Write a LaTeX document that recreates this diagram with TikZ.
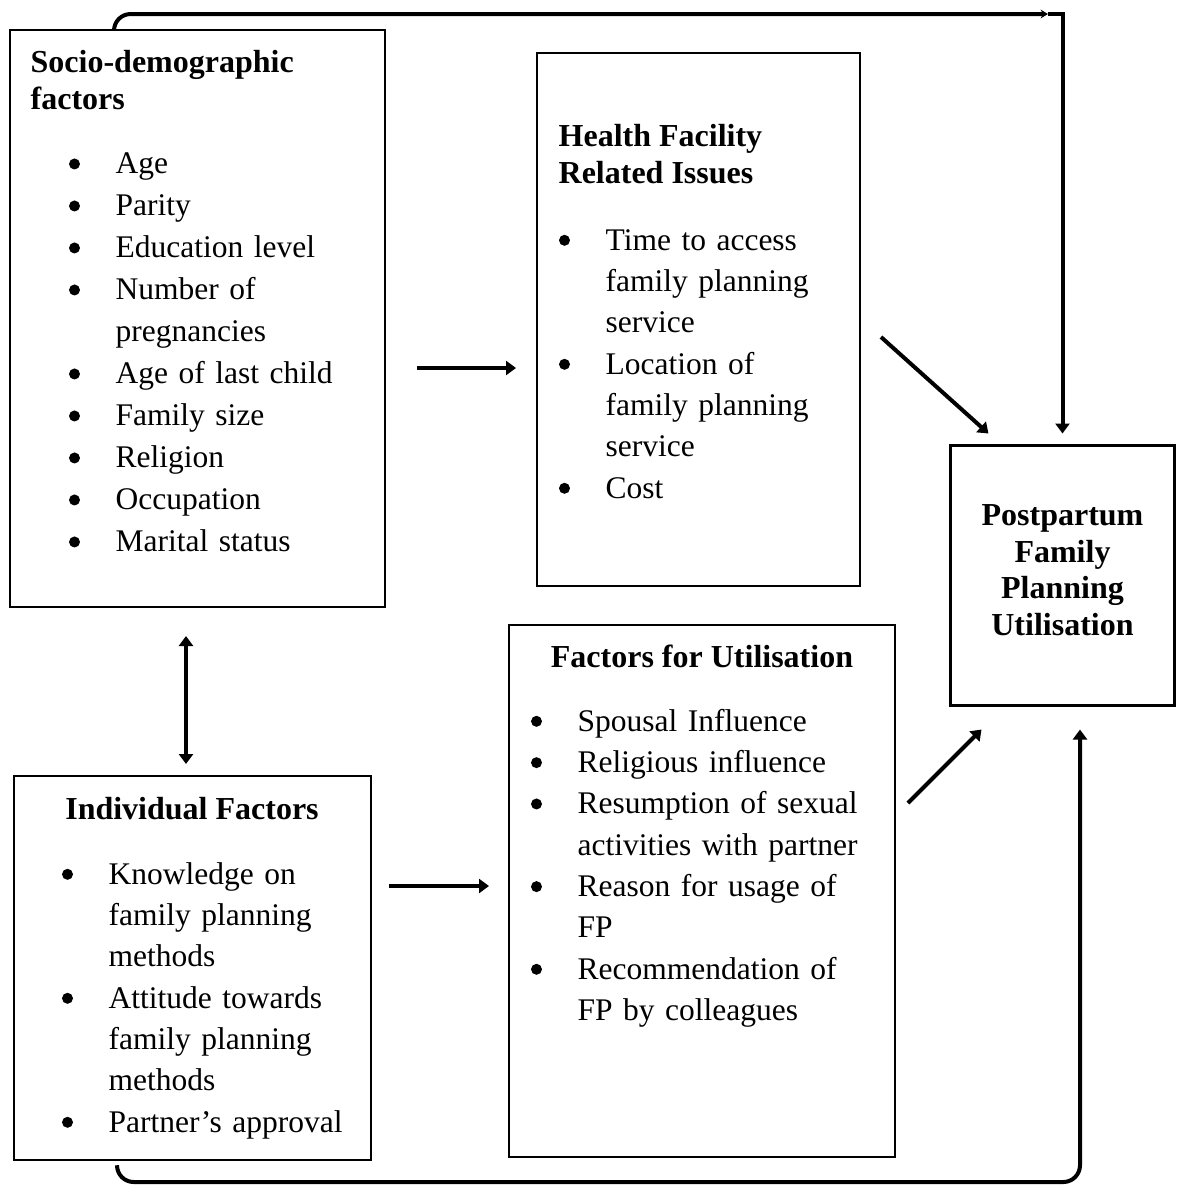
\documentclass[tikz,border=0pt]{standalone}
\usepackage{fontspec}
\setmainfont{Liberation Serif}
\usetikzlibrary{arrows.meta,fit}

\newcommand{\bigdot}{\rule{0pt}{7pt}\tikz[baseline=-3pt]\fill (0,0) circle[radius=1.65pt];}
\newenvironment{factlist}{\begin{list}{\bigdot}{%
  \setlength{\leftmargin}{15pt}\setlength{\labelwidth}{4.3pt}%
  \setlength{\labelsep}{10.7pt}\setlength{\itemindent}{0pt}%
  \setlength{\itemsep}{0pt}\setlength{\parsep}{0pt}%
  \setlength{\topsep}{0pt}\setlength{\partopsep}{0pt}}}{\end{list}}

\begin{document}
\begin{tikzpicture}[x=0.3pt, y=-0.3pt, >={Triangle[length=3pt,width=4.2pt]},
  block/.style={draw, line width=0.6pt, inner sep=0pt},
  items/.style={inner sep=0pt, text width=130pt, align=left, anchor=north west,
    font=\fontsize{9.45}{12.4}\selectfont},
  head/.style={inner sep=0pt, align=left, anchor=north west,
    font=\fontsize{9.6}{11}\selectfont\bfseries},
  flow/.style={->, line width=1.2pt}]

  \useasboundingbox (0,0) rectangle (1183,1185);

  % Boxes
  \node[block, fit={(10,30) (385,607)}] (socio) {};
  \node[block, fit={(537,53) (860,586)}] (health) {};
  \node[block, line width=0.9pt, fit={(950,445) (1175,705)}] (post) {};
  \node[block, fit={(509,625) (895,1157)}] (usage) {};
  \node[block, fit={(14,776) (371,1160)}] (indiv) {};

  % Headings
  \node[head] (socioHead) at (30,46.3) {\strut Socio-demographic\\factors};
  \node[head] (healthHead) at (558,120.3) {\strut Health Facility\\Related Issues};
  \node[head, anchor=north] (usageHead) at (702,641.3) {\strut Factors for Utilisation};
  \node[head, anchor=north] (indivHead) at (192,793.3) {\strut Individual Factors};
  \node[head, align=center, anchor=center] (postHead) at ([yshift=1.5pt]post.center)
    {Postpartum\\Family\\Planning\\Utilisation};

  % Lists
  \node[items, font=\fontsize{9.45}{12.6}\selectfont] (socioList) at (65,131.3) {\begin{factlist}
    \item Age
    \item Parity
    \item Education level
    \item Number of\\pregnancies
    \item Age of last child
    \item Family size
    \item Religion
    \item Occupation
    \item Marital status
  \end{factlist}};
  \node[items] (healthList) at (555,208.3) {\begin{factlist}
    \item Time to access\\family planning\\service
    \item Location of\\family planning\\service
    \item Cost
  \end{factlist}};
  \node[items] (usageList) at (527,689.3) {\begin{factlist}
    \item Spousal Influence
    \item Religious influence
    \item Resumption of sexual\\activities with partner
    \item Reason for usage of\\FP
    \item Recommendation of\\FP by colleagues
  \end{factlist}};
  \node[items] (indivList) at (58,842.3) {\begin{factlist}
    \item Knowledge on\\family planning\\methods
    \item Attitude towards\\family planning\\methods
    \item Partner’s approval
  \end{factlist}};

  % Short arrows
  \draw[flow] ([shift={(31,49.5)}]socio.east) -- ([shift={(-20,48.5)}]health.west);
  \draw[flow] ([shift={(20,17.5)}]health.east) -- ([shift={(40,-10)}]post.north west);
  \draw[flow, <->] ([shift={(-11.5,28)}]socio.south) -- ([shift={(-6.5,-11)}]indiv.north);
  \draw[flow] ([shift={(17,-82)}]indiv.east) -- ([shift={(-19,-5)}]usage.west);
  \draw[flow] ([shift={(12,-88)}]usage.east) -- ([shift={(33,23)}]post.south west);

  % Long connectors
  \coordinate (topTip) at (1048,14);
  \coordinate (lowCorner) at (1080,1182);
  \draw[line width=1.2pt, rounded corners=5, -{Stealth[length=2.2pt,width=2.6pt]}]
    ([shift={(105,0)}]socio.north west) |- (topTip);
  \draw[flow, shorten >=3pt] (topTip) -| (post.north);
  \draw[flow, rounded corners=5] ([shift={(104,5)}]indiv.south west) |- (lowCorner)
    -- ([shift={(17.5,23)}]post.south);

\end{tikzpicture}
\end{document}
